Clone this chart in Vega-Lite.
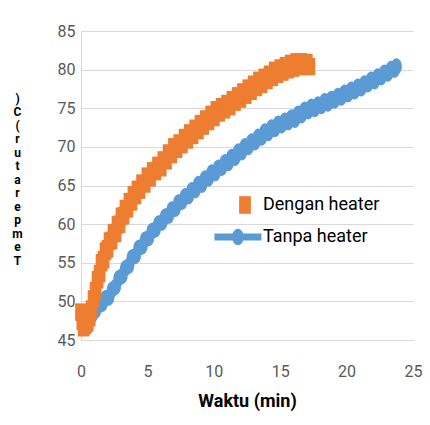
{
  "$schema": "https://vega.github.io/schema/vega-lite/v6.json",
  "width": 332,
  "height": 309,
  "autosize": "none",
  "padding": {"left": 81, "top": 31, "right": 17, "bottom": 85},
  "background": "white",
  "config": {"view": {"stroke": null}, "font": "Roboto"},
  "datasets": {
    "dengan": [
      {"t":0.0,"y":48.6},{"t":0.1,"y":47.4},{"t":0.2,"y":46.6},{"t":0.35,"y":46.9},{"t":0.5,"y":47.2},{"t":0.65,"y":47.9},{"t":0.8,"y":49.0},{"t":0.95,"y":50.3},{"t":1.1,"y":51.4},{"t":1.25,"y":52.8},{"t":1.4,"y":53.6},{"t":1.55,"y":55.0},{"t":1.7,"y":55.4},{"t":1.85,"y":56.5},{"t":2.0,"y":56.8},{"t":2.15,"y":57.8},{"t":2.3,"y":57.9},{"t":2.45,"y":58.9},{"t":2.6,"y":58.8},{"t":2.75,"y":59.9},{"t":2.9,"y":60.0},{"t":3.05,"y":61.0},{"t":3.2,"y":61.1},{"t":3.35,"y":62.0},{"t":3.5,"y":62.0},{"t":3.65,"y":62.9},{"t":3.8,"y":62.9},{"t":3.95,"y":63.8},{"t":4.1,"y":63.7},{"t":4.25,"y":64.5},{"t":4.4,"y":64.4},{"t":4.6,"y":65.3},{"t":4.8,"y":65.2},{"t":5.0,"y":66.2},{"t":5.2,"y":66.0},{"t":5.4,"y":66.9},{"t":5.6,"y":66.8},{"t":5.8,"y":67.6},{"t":6.0,"y":67.3},{"t":6.2,"y":68.3},{"t":6.4,"y":68.2},{"t":6.6,"y":69.2},{"t":6.8,"y":69.0},{"t":7.0,"y":70.0},{"t":7.2,"y":69.7},{"t":7.4,"y":70.5},{"t":7.6,"y":70.3},{"t":7.8,"y":71.2},{"t":8.0,"y":70.9},{"t":8.2,"y":71.8},{"t":8.4,"y":71.5},{"t":8.6,"y":72.4},{"t":8.8,"y":72.1},{"t":9.0,"y":73.0},{"t":9.2,"y":72.7},{"t":9.4,"y":73.6},{"t":9.6,"y":73.3},{"t":9.8,"y":74.2},{"t":10.0,"y":73.8},{"t":10.2,"y":74.8},{"t":10.4,"y":74.4},{"t":10.6,"y":75.2},{"t":10.8,"y":74.8},{"t":11.0,"y":75.6},{"t":11.2,"y":75.2},{"t":11.4,"y":76.1},{"t":11.6,"y":75.8},{"t":11.8,"y":76.6},{"t":12.0,"y":76.2},{"t":12.2,"y":77.1},{"t":12.4,"y":76.7},{"t":12.6,"y":77.6},{"t":12.8,"y":77.2},{"t":13.0,"y":78.1},{"t":13.2,"y":77.7},{"t":13.4,"y":78.6},{"t":13.6,"y":78.1},{"t":13.8,"y":79.0},{"t":14.0,"y":78.6},{"t":14.2,"y":79.4},{"t":14.4,"y":79.0},{"t":14.6,"y":79.9},{"t":14.8,"y":79.4},{"t":15.0,"y":80.2},{"t":15.2,"y":79.7},{"t":15.4,"y":80.5},{"t":15.6,"y":80.0},{"t":15.8,"y":80.8},{"t":16.0,"y":80.2},{"t":16.2,"y":81.0},{"t":16.4,"y":80.4},{"t":16.6,"y":81.0},{"t":16.8,"y":80.5},{"t":17.0,"y":80.9},{"t":17.2,"y":80.4}
    ],
    "tanpa": [
      {"t":0.6,"y":47.6},{"t":0.85,"y":48.2},{"t":1.1,"y":48.8},{"t":1.35,"y":49.5},{"t":1.6,"y":49.7},{"t":1.85,"y":50.4},{"t":2.1,"y":50.5},{"t":2.35,"y":51.5},{"t":2.6,"y":51.9},{"t":2.85,"y":53.0},{"t":3.1,"y":53.3},{"t":3.35,"y":54.3},{"t":3.6,"y":54.6},{"t":3.85,"y":55.7},{"t":4.1,"y":55.9},{"t":4.35,"y":56.9},{"t":4.6,"y":57.1},{"t":4.85,"y":58.0},{"t":5.1,"y":58.2},{"t":5.35,"y":59.1},{"t":5.6,"y":59.3},{"t":5.85,"y":60.1},{"t":6.1,"y":60.2},{"t":6.35,"y":61.0},{"t":6.6,"y":61.1},{"t":6.85,"y":61.9},{"t":7.1,"y":62.0},{"t":7.35,"y":62.8},{"t":7.6,"y":62.9},{"t":7.85,"y":63.6},{"t":8.1,"y":63.6},{"t":8.35,"y":64.4},{"t":8.6,"y":64.4},{"t":8.85,"y":65.2},{"t":9.1,"y":65.1},{"t":9.35,"y":65.9},{"t":9.6,"y":65.9},{"t":9.85,"y":66.7},{"t":10.1,"y":66.6},{"t":10.35,"y":67.3},{"t":10.6,"y":67.3},{"t":10.85,"y":68.0},{"t":11.1,"y":67.9},{"t":11.35,"y":68.7},{"t":11.6,"y":68.6},{"t":11.85,"y":69.4},{"t":12.1,"y":69.3},{"t":12.35,"y":70.1},{"t":12.6,"y":70.0},{"t":12.85,"y":70.7},{"t":13.1,"y":70.6},{"t":13.35,"y":71.3},{"t":13.6,"y":71.2},{"t":13.85,"y":72.0},{"t":14.1,"y":71.8},{"t":14.35,"y":72.5},{"t":14.6,"y":72.3},{"t":14.85,"y":73.0},{"t":15.1,"y":72.8},{"t":15.35,"y":73.4},{"t":15.6,"y":73.2},{"t":15.85,"y":73.8},{"t":16.1,"y":73.5},{"t":16.35,"y":74.3},{"t":16.6,"y":74.1},{"t":16.85,"y":74.8},{"t":17.1,"y":74.6},{"t":17.35,"y":75.2},{"t":17.6,"y":74.9},{"t":17.85,"y":75.5},{"t":18.1,"y":75.3},{"t":18.35,"y":75.9},{"t":18.6,"y":75.6},{"t":18.85,"y":76.2},{"t":19.1,"y":76.0},{"t":19.35,"y":76.6},{"t":19.6,"y":76.4},{"t":19.85,"y":77.0},{"t":20.1,"y":76.8},{"t":20.35,"y":77.4},{"t":20.6,"y":77.2},{"t":20.85,"y":77.8},{"t":21.1,"y":77.6},{"t":21.35,"y":78.2},{"t":21.6,"y":78.1},{"t":21.85,"y":78.7},{"t":22.1,"y":78.5},{"t":22.35,"y":79.1},{"t":22.6,"y":79.0},{"t":22.85,"y":79.6},{"t":23.1,"y":79.5},{"t":23.35,"y":80.1},{"t":23.6,"y":80.0},{"t":23.75,"y":80.4}
    ]
  },
  "encoding": {
    "x": {
      "field": "t", "type": "quantitative",
      "scale": {"domain": [0, 25], "nice": false},
      "axis": {
        "values": [0, 5, 10, 15, 20, 25], "title": "Waktu (min)", "grid": false, "ticks": false,
        "domain": true, "domainColor": "#D9D9D9", "domainWidth": 1,
        "labelColor": "#595959", "labelFontSize": 16, "labelPadding": 23, "labelFlush": false,
        "titleFontSize": 18, "titleFontWeight": "bold", "titleColor": "#000000", "titlePadding": 13
      }
    },
    "y": {
      "field": "y", "type": "quantitative",
      "scale": {"domain": [45, 85], "nice": false, "zero": false},
      "axis": {
        "values": [45, 50, 55, 60, 65, 70, 75, 80, 85],
        "title": [")", "C", "(", "r", "u", "t", "a", "r", "e", "p", "m", "e", "T"],
        "titleAngle": 0, "titleAnchor": null, "titleX": -64, "titleY": 62,
        "titleAlign": "center", "titleBaseline": "top", "titleLineHeight": 13.5,
        "titleFontSize": 12, "titleFontWeight": "bold", "titleColor": "#000000",
        "grid": true, "gridColor": "#D9D9D9", "gridWidth": 1, "ticks": false,
        "domain": true, "domainColor": "#D9D9D9",
        "labelColor": "#595959", "labelFontSize": 16, "labelPadding": 6
      }
    }
  },
  "layer": [
    {
      "data": {"name": "tanpa"},
      "mark": {"type": "line", "color": "#5B9BD5", "strokeWidth": 7, "strokeJoin": "round"}
    },
    {
      "data": {"name": "tanpa"},
      "mark": {"type": "point", "filled": true, "opacity": 1, "color": "#5B9BD5", "size": 480,
               "shape": "M-0.5,0A0.5,0.75 0 1,1 0.5,0A0.5,0.75 0 1,1 -0.5,0Z"}
    },
    {
      "data": {"name": "dengan"},
      "transform": [{"calculate": "'Dengan heater'", "as": "s"}],
      "mark": {"type": "point", "filled": true, "opacity": 1, "size": 552, "strokeWidth": 0},
      "encoding": {
        "color": {
          "field": "s", "type": "nominal",
          "scale": {"domain": ["Dengan heater", "Tanpa heater"], "range": ["#ED7D31", "#5B9BD5"]},
          "legend": {"title": null, "orient": "none", "legendX": 152, "legendY": 162, "padding": 0,
                     "symbolSize": 552, "labelFontSize": 18, "labelColor": "#000000", "labelOffset": 6,
                     "rowPadding": 11, "symbolOpacity": 1, "symbolStrokeWidth": 0}
        },
        "shape": {
          "field": "s", "type": "nominal",
          "scale": {"domain": ["Dengan heater", "Tanpa heater"],
                    "range": ["M-0.5,-0.75H0.5V0.75H-0.5Z", "M-2.6,-0.3H1.4V0.3H-2.6Z M-1.1,0A0.5,0.7 0 1,1 -0.1,0A0.5,0.7 0 1,1 -1.1,0Z"]},
          "legend": {"title": null, "orient": "none", "legendX": 152, "legendY": 162, "padding": 0,
                     "symbolSize": 552, "labelFontSize": 18, "labelColor": "#000000", "labelOffset": 6,
                     "rowPadding": 11, "symbolOpacity": 1, "symbolStrokeWidth": 0}
        }
      }
    }
  ]
}
